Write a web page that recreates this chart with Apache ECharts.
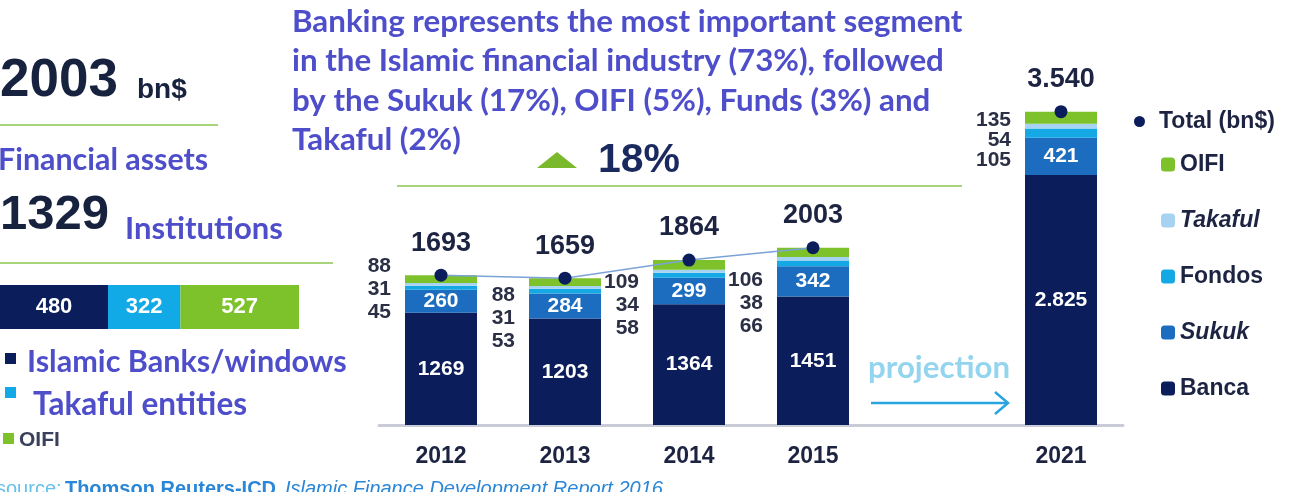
<!DOCTYPE html>
<html>
<head>
<meta charset="utf-8">
<title>Islamic financial industry</title>
<script src="https://cdn.jsdelivr.net/npm/echarts@6/dist/echarts.min.js"></script>
<style>
  html,body {
    margin: 0;
    padding: 0;
    background: #fff;
  }
  #main {
    width: 1300px;
    height: 492px;
  }
</style>
</head>
<body>
<div id="main"></div>
<script>
  // main stacked chart (bn$)
  var years = ['2012', '2013', '2014', '2015', '', '2021'];
  var banca = [1269, 1203, 1364, 1451, '-', 2825];
  var sukuk = [260, 284, 299, 342, '-', 421];
  var fondos = [45, 53, 58, 66, '-', 105];
  var takaful = [31, 31, 34, 38, '-', 54];
  var oifi = [88, 88, 109, 106, '-', 135];
  var total = [1693, 1659, 1864, 2003, '-', 3540];

  // institutions bar (left panel)
  var instNames = ['Islamic Banks/windows', 'Takaful entities', 'OIFI'];
  var instValues = [480, 322, 527];

  var NAVY = '#0b1e5b', SUKUK = '#1c6dbf', FONDOS = '#14a8e5', TAKAFUL = '#a7d3f3', GREEN = '#7dc12b';
  var TXT = '#1d2442', PURPLE = '#4e4ecb';
  var NUM_FONT = '"Liberation Sans", Arial, sans-serif';
  var CAL_FONT = 'Lato, "Open Sans", sans-serif';

  // font size so that a text spans a given width (the original uses Calibri)
  var measureCtx = document.createElement('canvas').getContext('2d');
  function fitSize(text, width) {
    measureCtx.font = 'bold 100px ' + CAL_FONT;
    return Math.round(1000 * width / measureCtx.measureText(text).width) / 10;
  }

  // 2021 uses a dot as thousands separator
  function fmt(v, idx) {
    var s = String(v);
    if (years[idx] === '2021') s = s.replace(/\B(?=(\d{3})+(?!\d))/g, '.');
    return s;
  }

  // vertical shift of the small side labels, per bar
  var sideShift = [2, 27, 30, 40, 0, 7];

  function barSeries(name, values, color, label) {
    return {
      name: name,
      type: 'bar',
      stack: 'seg',
      barWidth: 72,
      data: values,
      itemStyle: { color: color },
      label: label || { show: false },
      emphasis: { disabled: true }
    };
  }

  var insideLabel = {
    show: true,
    position: 'inside',
    color: '#fff',
    fontFamily: NUM_FONT,
    fontWeight: 'bold',
    fontSize: 21,
    formatter: function (p) { return fmt(p.value, p.dataIndex); }
  };

  var fondosData = fondos.map(function (v, i) {
    return { value: v, label: { offset: [0, sideShift[i]], lineHeight: i === 5 ? 20 : 23 } };
  });

  var instTotal = instValues.reduce(function (a, b) { return a + b; }, 0);
  var instColors = [NAVY, '#12aae6', GREEN];

  var headline = [
    'Banking represents the most important segment',
    'in the Islamic financial industry (73%), followed',
    'by the Sukuk (17%), OIFI (5%), Funds (3%) and',
    'Takaful (2%)'
  ];

  function calText(x, y, text, width, color) {
    return {
      type: 'text', x: x, y: y,
      style: { text: text, fill: color || PURPLE, fontFamily: CAL_FONT, fontWeight: 'bold', fontSize: fitSize(text, width), verticalAlign: 'middle' }
    };
  }

  var chart = echarts.init(document.getElementById('main'));

  var option = {
    animation: false,
    grid: [
      { left: 379, top: 71, width: 744, height: 354 },
      { left: 0, top: 285, width: 299, height: 44 }
    ],
    xAxis: [{
      type: 'category',
      data: years,
      gridIndex: 0,
      axisLine: { lineStyle: { color: '#c9ccd6', width: 3 } },
      axisTick: { show: false },
      axisLabel: { color: TXT, fontFamily: NUM_FONT, fontWeight: 'bold', fontSize: 23, margin: 20 }
    }, {
      type: 'value',
      gridIndex: 1,
      min: 0,
      max: instTotal,
      show: false
    }],
    yAxis: [{
      type: 'value',
      gridIndex: 0,
      min: 0,
      max: 4000,
      show: false
    }, {
      type: 'category',
      gridIndex: 1,
      data: ['inst'],
      show: false
    }],
    legend: [{
      orient: 'vertical',
      left: 1129,
      top: 105,
      itemWidth: 11,
      itemHeight: 11,
      data: [{ name: 'Total (bn$)', icon: 'circle' }],
      textStyle: { color: TXT, fontFamily: NUM_FONT, fontWeight: 'bold', fontSize: 23, padding: [0, 0, 0, 9] }
    }, {
      orient: 'vertical',
      left: 1156,
      top: 148,
      itemWidth: 14,
      itemHeight: 14,
      itemGap: 33,
      data: ['OIFI', 'Takaful', 'Fondos', 'Sukuk', 'Banca'],
      formatter: function (name) {
        return (name === 'Takaful' || name === 'Sukuk') ? '{i|' + name + '}' : name;
      },
      textStyle: {
        color: TXT, fontFamily: NUM_FONT, fontWeight: 'bold', fontSize: 23,
        rich: { i: { fontStyle: 'italic', fontWeight: 'bold', fontSize: 23, fontFamily: NUM_FONT, color: TXT } }
      }
    }],
    series: [
      barSeries('Banca', banca, NAVY, insideLabel),
      barSeries('Sukuk', sukuk, SUKUK, insideLabel),
      barSeries('Fondos', fondosData, FONDOS, {
        show: true,
        position: 'left',
        distance: 14,
        align: 'right',
        color: '#2a2f45',
        fontFamily: NUM_FONT,
        fontWeight: 'bold',
        fontSize: 21,
        lineHeight: 23,
        formatter: function (p) {
          var i = p.dataIndex;
          return oifi[i] + '\n' + takaful[i] + '\n' + fondos[i];
        }
      }),
      barSeries('Takaful', takaful, TAKAFUL),
      barSeries('OIFI', oifi, GREEN),
      {
        name: 'Total (bn$)',
        type: 'line',
        data: total,
        z: 10,
        symbol: 'circle',
        symbolSize: 13,
        connectNulls: false,
        itemStyle: { color: NAVY },
        lineStyle: { color: '#7ba3d6', width: 1.5 },
        label: {
          show: true,
          position: 'top',
          distance: 12,
          color: TXT,
          fontFamily: NUM_FONT,
          fontWeight: 'bold',
          fontSize: 27,
          formatter: function (p) { return fmt(p.value, p.dataIndex); }
        },
        emphasis: { disabled: true }
      }
    ].concat(instNames.map(function (name, i) {
      return {
        name: name,
        type: 'bar',
        stack: 'inst',
        xAxisIndex: 1,
        yAxisIndex: 1,
        barWidth: 44,
        data: [instValues[i]],
        itemStyle: { color: instColors[i] },
        label: {
          show: true,
          position: 'inside',
          color: '#fff',
          fontFamily: NUM_FONT,
          fontWeight: 'bold',
          fontSize: 22
        },
        emphasis: { disabled: true }
      };
    })),
    graphic: [
      // headline
      {
        type: 'text', left: 292, top: 2,
        style: {
          text: headline.join('\n'),
          fill: PURPLE, fontFamily: CAL_FONT, fontWeight: 'bold', fontSize: fitSize(headline[0], 671), lineHeight: 39.5
        }
      },
      // growth marker
      { type: 'polygon', shape: { points: [[537, 168], [557, 152], [577, 168]] }, style: { fill: '#7ab82c' } },
      { type: 'text', x: 598, y: 161, style: { text: '18%', fill: '#1b2a5e', fontFamily: NUM_FONT, fontWeight: 'bold', fontSize: 41, verticalAlign: 'middle' } },
      { type: 'line', shape: { x1: 397, y1: 186, x2: 962, y2: 186 }, style: { stroke: '#a8d57c', lineWidth: 2 } },
      // projection arrow
      calText(868, 368, 'projection', 142, '#93d4ee'),
      { type: 'line', shape: { x1: 871, y1: 403, x2: 1008, y2: 403 }, style: { stroke: '#2aa4e0', lineWidth: 2.5 } },
      { type: 'polyline', shape: { points: [[995, 392], [1008, 403], [995, 414]] }, style: { stroke: '#2aa4e0', lineWidth: 2.5, fill: null } },
      // left panel
      { type: 'text', x: 0, y: 81, style: { text: '2003', fill: '#17223f', fontFamily: NUM_FONT, fontWeight: 'bold', fontSize: 53, verticalAlign: 'middle' } },
      { type: 'text', x: 137, y: 90, style: { text: 'bn$', fill: '#17223f', fontFamily: NUM_FONT, fontWeight: 'bold', fontSize: 28, verticalAlign: 'middle' } },
      { type: 'line', shape: { x1: 0, y1: 125, x2: 218, y2: 125 }, style: { stroke: '#a8d57c', lineWidth: 2 } },
      calText(-2, 160, 'Financial assets', 210),
      { type: 'text', x: 0, y: 215, style: { text: '1329', fill: '#17223f', fontFamily: NUM_FONT, fontWeight: 'bold', fontSize: 49, verticalAlign: 'middle' } },
      calText(125, 229, 'Institutions', 158),
      { type: 'line', shape: { x1: 0, y1: 263, x2: 333, y2: 263 }, style: { stroke: '#a8d57c', lineWidth: 2 } },
      { type: 'rect', shape: { x: 5, y: 353, width: 11, height: 11 }, style: { fill: NAVY } },
      calText(27, 362, instNames[0], 320),
      { type: 'rect', shape: { x: 5, y: 387, width: 11, height: 11 }, style: { fill: '#12aae6' } },
      calText(33, 405, instNames[1], 214),
      { type: 'rect', shape: { x: 3, y: 433, width: 11, height: 11 }, style: { fill: GREEN } },
      { type: 'text', x: 19, y: 440, style: { text: instNames[2], fill: '#3a3f5a', fontFamily: NUM_FONT, fontWeight: 'bold', fontSize: 21, verticalAlign: 'middle' } },
      // source
      {
        type: 'text', x: -4, y: 489,
        style: {
          text: '{a|source:} {b|Thomson Reuters-ICD,} {c|Islamic Finance Development Report 2016.}',
          verticalAlign: 'middle',
          rich: {
            a: { fill: '#67c0ea', fontFamily: NUM_FONT, fontSize: 20 },
            b: { fill: '#2a86d6', fontFamily: NUM_FONT, fontWeight: 'bold', fontSize: 20 },
            c: { fill: '#2a86d6', fontFamily: NUM_FONT, fontStyle: 'italic', fontSize: 20 }
          }
        }
      }
    ]
  };

  chart.setOption(option);
</script>
</body>
</html>
